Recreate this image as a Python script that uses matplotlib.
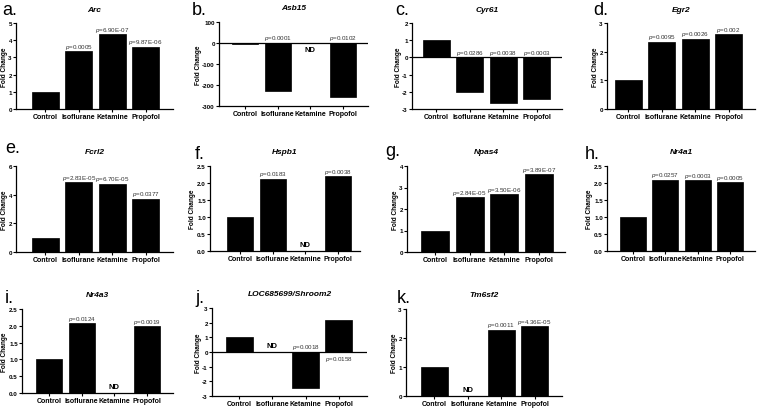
import numpy as np
import matplotlib
matplotlib.use('Agg')
import matplotlib.pyplot as plt

plt.rcParams['font.family'] = ['Liberation Sans', 'DejaVu Sans']
plt.rcParams['mathtext.fontset'] = 'custom'
plt.rcParams['mathtext.rm'] = 'Liberation Sans'
plt.rcParams['mathtext.it'] = 'Liberation Sans:italic'

groups = ['Control', 'Isoflurane', 'Ketamine', 'Propofol']
letters = ['a.', 'b.', 'c.', 'd.', 'e.', 'f.', 'g.', 'h.', 'i.', 'j.', 'k.']
genes = ['Arc', 'Asb15', 'Cyr61', 'Egr2', 'Fcrl2', 'Hspb1', 'Npas4',
         'Nr4a1', 'Nr4a3', 'LOC685699/Shroom2', 'Tm6sf2']

# fold change, None = ND
arc = [1, 3.35, 4.35, 3.62]
asb15 = [-4, -230, None, -258]
cyr61 = [1, -2.0, -2.65, -2.4]
egr2 = [1, 2.35, 2.45, 2.6]
fcrl2 = [1, 4.85, 4.75, 3.72]
hspb1 = [1, 2.13, None, 2.2]
npas4 = [1, 2.55, 2.68, 3.62]
nr4a1 = [1, 2.1, 2.08, 2.03]
nr4a3 = [1, 2.08, None, 1.98]
shroom2 = [1, None, -2.45, 2.15]
tm6sf2 = [1, None, 2.28, 2.4]
values = [arc, asb15, cyr61, egr2, fcrl2, hspb1, npas4, nr4a1, nr4a3, shroom2, tm6sf2]

pvals = [
    [None, '0.0005', '6.90E-07', '9.87E-06'],
    [None, '0.0001', None, '0.0102'],
    [None, '0.0286', '0.0038', '0.0003'],
    [None, '0.0095', '0.0026', '0.002'],
    [None, '2.83E-05', '6.70E-05', '0.0377'],
    [None, '0.0183', None, '0.0038'],
    [None, '2.84E-05', '3.50E-06', '3.89E-07'],
    [None, '0.0257', '0.0003', '0.0005'],
    [None, '0.0124', None, '0.0019'],
    [None, None, '0.0018', '0.0158'],
    [None, None, '0.0011', '4.36E-05'],
]

ylims = [(0, 5), (-300, 100), (-3, 2), (0, 3), (0, 6), (0, 2.5), (0, 4),
         (0, 2.5), (0, 2.5), (-3, 3), (0, 3)]
ysteps = [1, 100, 1, 1, 2, 0.5, 1, 0.5, 0.5, 1, 1]

# layout in pixels: axes left, right, top, bottom ; first bar left, last bar right
boxes = [(16, 173, 24, 110), (219, 368, 23, 107), (412, 562, 24, 110), (607, 755, 24, 110),
         (16, 173, 167, 253), (210, 360, 167, 252), (407, 565, 167, 253), (607, 755, 167, 252),
         (22, 173, 310, 394), (212, 367, 309, 397), (406, 562, 310, 397)]
barspan = [(32, 159), (232, 356), (423, 550), (615, 742),
           (32, 159), (227, 351), (421, 553), (620, 743),
           (36, 160), (226, 352), (421, 548)]
letterpos = [(2, 15), (192, 15), (395, 15), (593, 15),
             (5, 153), (195, 159), (385, 156), (585, 159),
             (5, 303), (195, 303), (397, 303)]

W, H = 758, 410
fig = plt.figure(figsize=(W / 100, H / 100), dpi=100)

bw = 0.8
for k in range(len(genes)):
    L, R, T, B = boxes[k]
    ax = fig.add_axes([L / W, 1 - B / H, (R - L) / W, (B - T) / H])
    vals = np.array([np.nan if v is None else v for v in values[k]], dtype=float)
    x = np.arange(len(groups))
    ax.bar(x, np.nan_to_num(vals), width=bw, color='black', edgecolor='black', linewidth=0.5)

    b0, b1 = barspan[k]
    s = (b1 - b0) / (3 + bw)
    ax.set_xlim(-bw / 2 - (b0 - L) / s, 3 + bw / 2 + (R - b1) / s)
    lo, hi = ylims[k]
    ax.set_ylim(lo, hi)
    ticks = np.arange(lo, hi + ysteps[k] / 2, ysteps[k])
    ax.set_yticks(ticks)
    if ysteps[k] < 1:
        ax.set_yticklabels(['%.1f' % t for t in ticks])
    else:
        ax.set_yticklabels(['%d' % t for t in ticks])
    ax.set_xticks(x)
    ax.set_xticklabels(groups)
    for sp in ['top', 'right']:
        ax.spines[sp].set_visible(False)
    for sp in ['left', 'bottom']:
        ax.spines[sp].set_linewidth(0.9)
    if lo < 0:
        ax.axhline(0, color='black', lw=0.9)
    ax.tick_params(axis='both', length=2, width=0.8, pad=1)
    ax.tick_params(axis='x', labelsize=5)
    ax.tick_params(axis='y', labelsize=4.5)
    for lab in ax.get_xticklabels() + ax.get_yticklabels():
        lab.set_fontweight('bold')
    ax.set_ylabel('Fold Change', fontsize=4.7, fontweight='bold', labelpad=0.5)
    ax.set_title(genes[k], fontsize=6, fontweight='bold', style='italic', pad=9)

    yr = hi - lo
    for i, v in enumerate(vals):
        if np.isnan(v):
            if lo < 0 and genes[k] == 'Asb15':
                ax.text(i, -0.04 * yr, 'ND', ha='center', va='top', fontsize=5.5, fontweight='bold')
            else:
                ax.text(i, 0.03 * yr, 'ND', ha='center', va='bottom', fontsize=5.5, fontweight='bold')
        p = pvals[k][i]
        if p is None:
            continue
        lab = '$p$=' + p
        if genes[k] == 'LOC685699/Shroom2' and v > 0:
            # label sits under the zero line in the source figure
            ax.text(i, -0.02 * yr, lab, ha='center', va='top', fontsize=4.5, color='#333333')
        elif v > 0:
            ax.text(i, v + 0.005 * yr, lab, ha='center', va='bottom', fontsize=4.5, color='#333333')
        else:
            ax.text(i, 0.01 * yr, lab, ha='center', va='bottom', fontsize=4.5, color='#333333')

    lx, ly = letterpos[k]
    fig.text(lx / W, 1 - ly / H, letters[k], fontsize=13, ha='left', va='baseline')

fig.savefig('out.png', dpi=100)
